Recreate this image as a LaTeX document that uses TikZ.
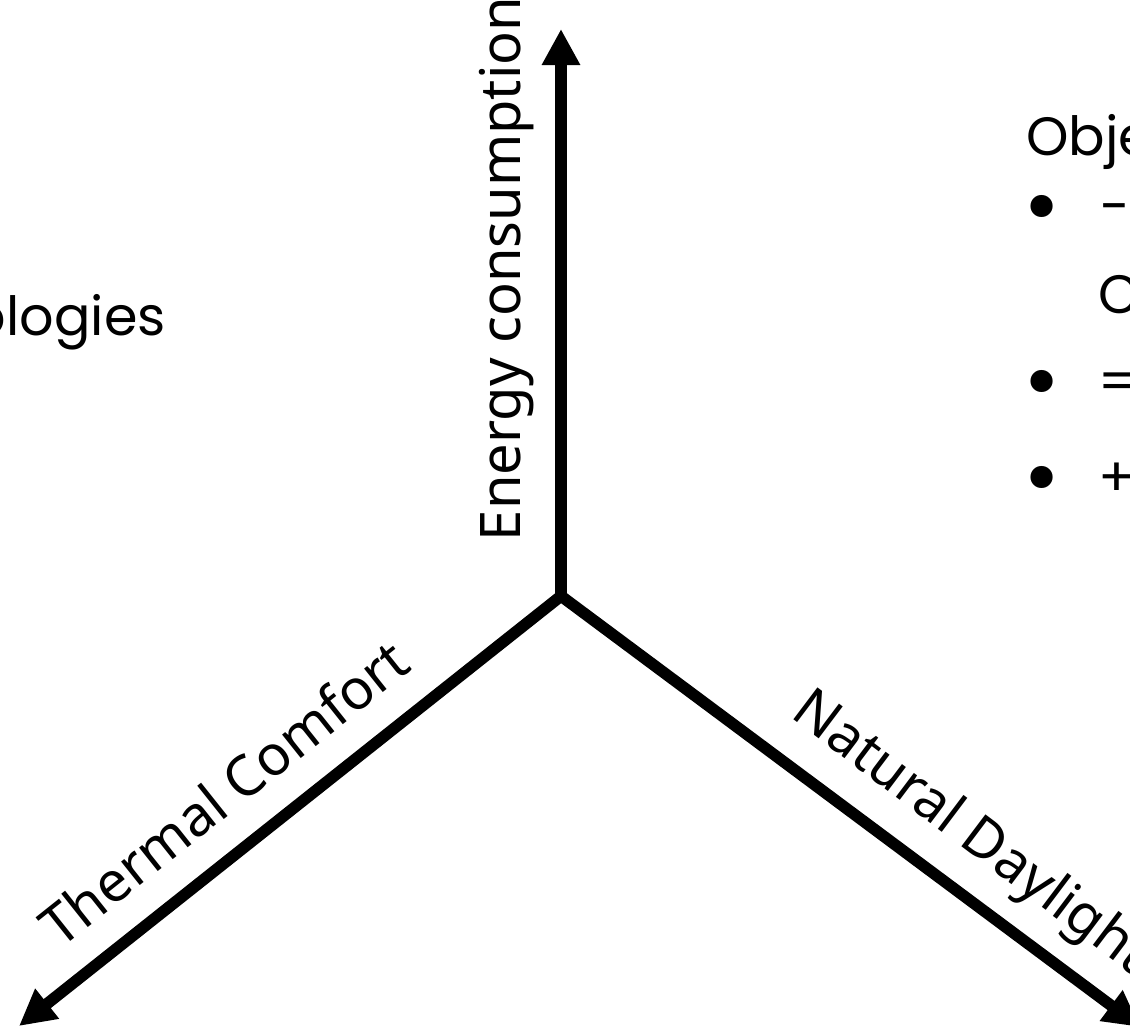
\documentclass[tikz,border=0pt]{standalone}
\usepackage{fontspec}
\setmainfont{Noto Sans}
\newfontfamily\labfont{Noto Sans}
\newfontfamily\gothic{Poppins}
\usetikzlibrary{arrows.meta}
\begin{document}
\begin{tikzpicture}[x=1pt,y=-1pt,
  axisline/.style={line width=11.5pt, line join=miter},
  lab/.style={font=\labfont\fontsize{56}{67}\selectfont, inner sep=0pt, anchor=base},
  txt/.style={font=\gothic\fontsize{54}{65}\selectfont, inner sep=0pt, anchor=base west},
  bul/.style={font=\gothic\fontsize{90}{90}\selectfont, inner sep=0pt, anchor=base west}]
\clip (0,0) rectangle (1130,1028);
\fill[white] (0,0) rectangle (1130,1028);
\coordinate (o) at (561,596);
\coordinate (top) at (561,29);
\coordinate (left) at (19,1026);
\coordinate (right) at (1140,1027);
\draw[axisline, {Triangle[length=36pt,width=36pt]}-{Triangle[length=36pt,width=36pt]}] (left) -- (o) -- (right);
\draw[axisline, -{Triangle[length=36pt,width=36pt]}] (o) -- (top);
\node[lab, rotate=90] (energy) at (520,269) {Energy consumption};
\node[lab, rotate=38.5] (thermal) at (237,809) {Thermal Comfort};
\node[lab, rotate=-37] (daylight) at (961,846) {Natural Daylight};
\node[txt, anchor=base east] (ologies) at (166,335) {ologies};
\node[txt] (obj) at (1026,155) {Obje};
\node[bul] (b1) at (1023,236) {•};
\node[txt] (s1) at (1100,225) {-};
\node[txt] (c2) at (1098,313) {C};
\node[bul] (b3) at (1023,411) {•};
\node[txt] (s3) at (1098,400) {=};
\node[bul] (b4) at (1023,507) {•};
\node[txt] (s4) at (1098,496) {+};
\end{tikzpicture}
\end{document}
